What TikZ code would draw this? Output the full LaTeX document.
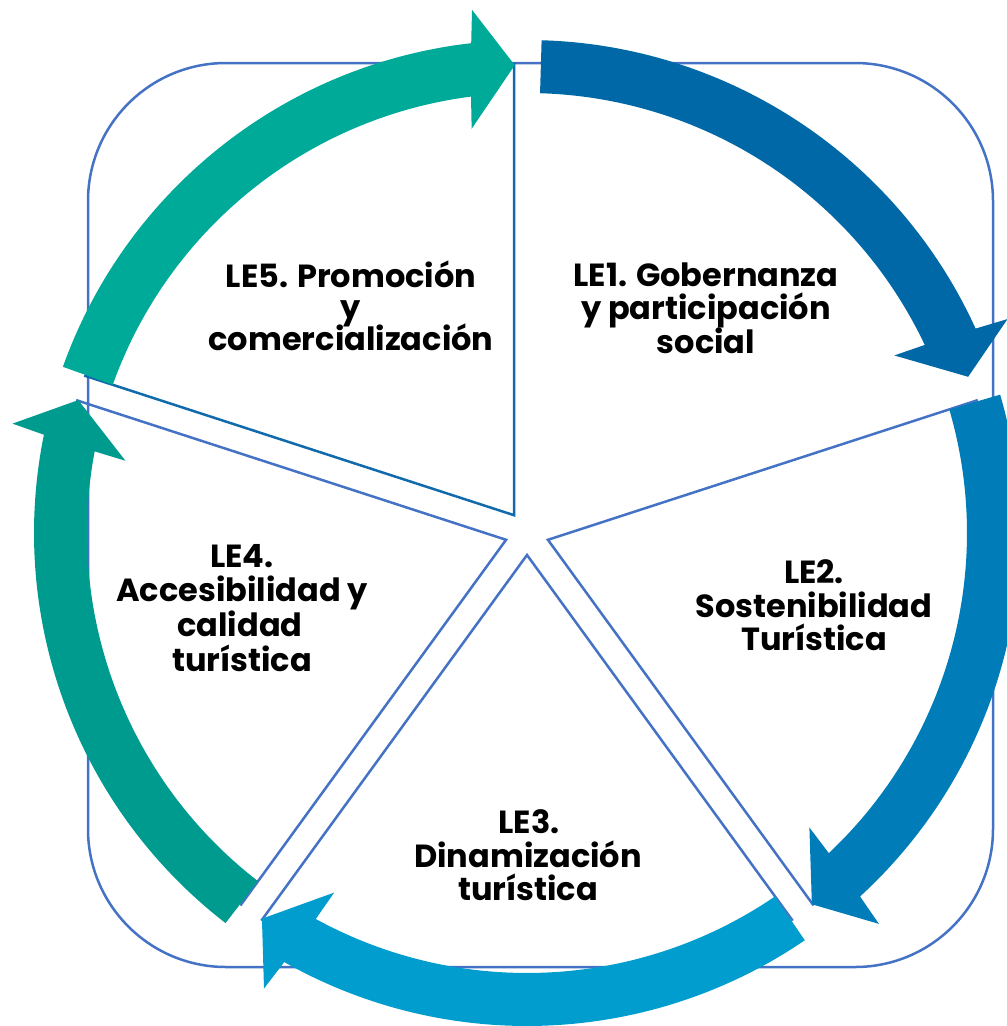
\documentclass[tikz,border=0pt]{standalone}
\usepackage{fontspec}
\setmainfont{Poppins}
\usetikzlibrary{calc}
\definecolor{frameblue}{RGB}{68,114,196}
\definecolor{darkedge}{RGB}{16,106,172}
\definecolor{arA}{RGB}{0,104,166}
\definecolor{arB}{RGB}{0,125,185}
\definecolor{arC}{RGB}{0,157,206}
\definecolor{arD}{RGB}{0,155,143}
\definecolor{arE}{RGB}{0,170,152}
\tikzset{
  frame/.style={draw=frameblue, line width=2.5pt, rounded corners=138pt},
  wedgeline/.style={draw=frameblue, line width=2.5pt, line join=miter},
  wedgedark/.style={draw=darkedge, line width=2.5pt, line join=miter},
  lbl/.style={anchor=base, inner sep=0pt, font=\fontsize{32}{35}\selectfont\bfseries, text=black}
}
\begin{document}
\begin{tikzpicture}[x=1pt,y=-1pt]
\useasboundingbox (0,0) rectangle (1007,1026);
\clip (0,0) rectangle (1007,1026);
% background rounded frame
\draw[frame] (88,63) rectangle (993,967);
\begin{scope}[shift={(527,533)}, yscale=-1]
  % wedge tips
  \coordinate (t5) at (126:22);
  \coordinate (t4) at (198:22);
  \coordinate (t3) at (270:22);
  \coordinate (t2) at (-18:22);
  % wedge edges
  \draw[wedgeline] ($(t4)+(162:452)$) -- (t4) -- ($(t4)+(234:452)$);
  \draw[wedgeline] ($(t3)+(234:452)$) -- (t3) -- ($(t3)+(306:452)$);
  \draw[wedgeline] ($(t2)+(18:452)$) -- (t2) -- ($(t2)+(-54:452)$);
  \draw[wedgedark] ($(t5)+(90:452)$) -- (t5) -- ($(t5)+(162:452)$);
  % circular arrows
  \foreach \k/\col in {0/arA,1/arB,2/arC,3/arD,4/arE}{
    \pgfmathsetmacro\aT{88.3-72*\k}
    \pgfmathsetmacro\aB{25.8-72*\k}
    \pgfmathsetmacro\aO{\aB-1.8}
    \pgfmathsetmacro\aP{\aB-6.3}
    \pgfmathsetmacro\aN{\aB-1.3}
    \pgfmathsetmacro\aI{\aB-0.49}
    \fill[\col] (\aT:493) arc[start angle=\aT, end angle=\aN, radius=493]
      -- (\aO:526) -- (\aP:468) -- (\aB:408) -- (\aI:440)
      arc[start angle=\aI, end angle=\aT, radius=440] -- cycle;
  }
\end{scope}
% labels
\node[lbl] (l5a) at (351,287) {LE5. Promoción};
\node[lbl] (l5b) at (351,318) {y};
\node[lbl] (l5c) at (351,350) {comercialización};
\node[lbl] (l1a) at (706,286) {LE1. Gobernanza};
\node[lbl] (l1b) at (706,319) {y participación};
\node[lbl] (l1c) at (706,353) {social};
\node[lbl] (l2a) at (814,583) {LE2.};
\node[lbl] (l2b) at (814,617) {Sostenibilidad};
\node[lbl] (l2c) at (814,650) {Turística};
\node[lbl] (l3a) at (529,833) {LE3.};
\node[lbl] (l3b) at (528,867) {Dinamización};
\node[lbl] (l3c) at (528,900) {turística};
\node[lbl] (l4a) at (242,567) {LE4.};
\node[lbl] (l4b) at (242,601) {Accesibilidad y};
\node[lbl] (l4c) at (240,636) {calidad};
\node[lbl] (l4d) at (242,671) {turística};
\end{tikzpicture}
\end{document}
